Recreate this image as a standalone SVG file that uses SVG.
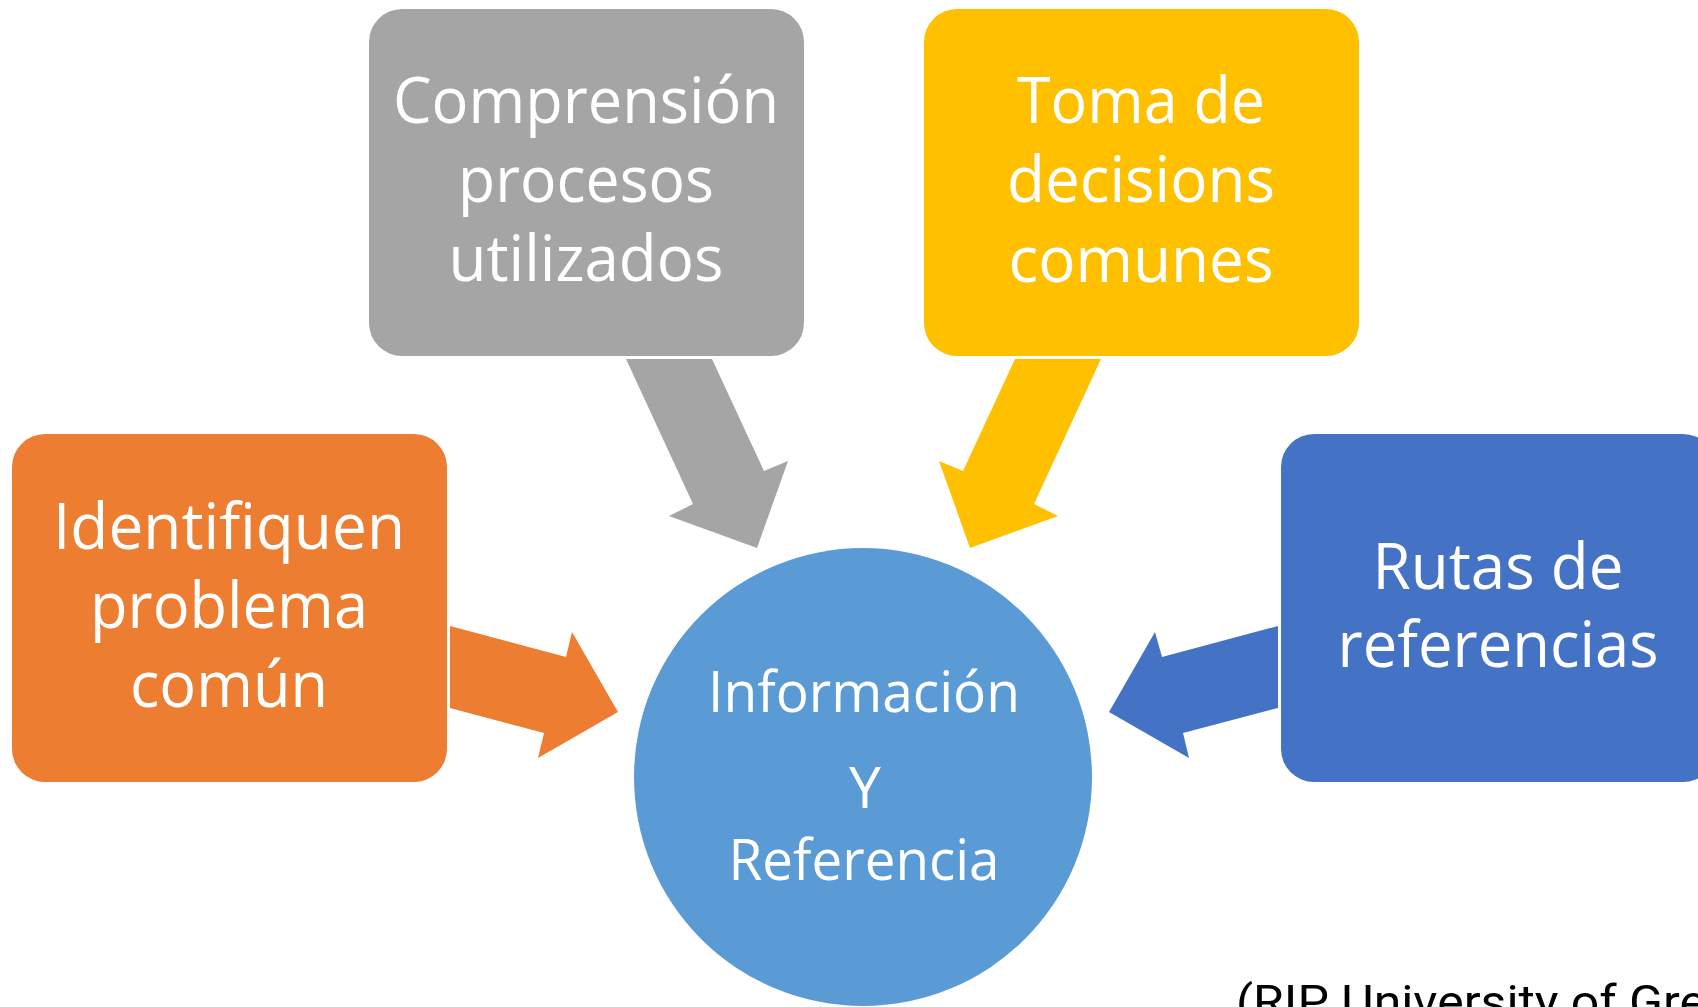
<svg xmlns="http://www.w3.org/2000/svg" width="1698" height="1007" viewBox="0 0 1698 1007">
<style>
.box{stroke:none}
.lbl{font-family:"Open Sans","Noto Sans",sans-serif;fill:#ffffff;text-anchor:middle;font-size:64px}
.clbl{font-family:"Open Sans","Noto Sans",sans-serif;fill:#ffffff;text-anchor:middle;font-size:57px}
.src{font-family:Roboto,"Liberation Sans",sans-serif;fill:#000000;font-size:47px}
</style>
<rect width="1698" height="1007" fill="#ffffff"/>
<g id="connectors">
<polygon points="626,359 712,359 764,471 788,461 757,548 669,516 693,504" fill="#A5A5A5"/>
<polygon points="1101,359 1015,359 963,471 939,461 970,548 1058,516 1034,504" fill="#FFC000"/>
<polygon points="450,626 566,657 572,632 618,712 538,758 544,733 450,708" fill="#ED7D31"/>
<polygon points="1278,626 1162,657 1155,632 1109,712 1189,758 1183,733 1278,708" fill="#4472C4"/>
</g>
<g id="node-comprension">
<rect class="box" x="369" y="9" width="435" height="347" rx="33" fill="#A5A5A5"/>
<text class="lbl" x="586" y="123" textLength="386" lengthAdjust="spacingAndGlyphs">Comprensión</text>
<text class="lbl" x="586" y="202" textLength="256" lengthAdjust="spacingAndGlyphs">procesos</text>
<text class="lbl" x="586" y="281" textLength="275" lengthAdjust="spacingAndGlyphs">utilizados</text>
</g>
<g id="node-toma">
<rect class="box" x="924" y="9" width="435" height="347" rx="33" fill="#FFC000"/>
<text class="lbl" x="1141" y="123" textLength="248" lengthAdjust="spacingAndGlyphs">Toma de</text>
<text class="lbl" x="1141" y="202" textLength="268" lengthAdjust="spacingAndGlyphs">decisions</text>
<text class="lbl" x="1141" y="282" textLength="265" lengthAdjust="spacingAndGlyphs">comunes</text>
</g>
<g id="node-identifiquen">
<rect class="box" x="12" y="434" width="435" height="348" rx="33" fill="#ED7D31"/>
<text class="lbl" x="229" y="549" textLength="352" lengthAdjust="spacingAndGlyphs">Identifiquen</text>
<text class="lbl" x="229" y="628" textLength="278" lengthAdjust="spacingAndGlyphs">problema</text>
<text class="lbl" x="229" y="707" textLength="198" lengthAdjust="spacingAndGlyphs">común</text>
</g>
<g id="node-rutas">
<rect class="box" x="1281" y="434" width="435" height="348" rx="33" fill="#4472C4"/>
<text class="lbl" x="1498" y="589" textLength="251" lengthAdjust="spacingAndGlyphs">Rutas de</text>
<text class="lbl" x="1498" y="667" textLength="321" lengthAdjust="spacingAndGlyphs">referencias</text>
</g>
<g id="node-informacion">
<circle cx="863" cy="777" r="229" fill="#5B9BD5"/>
<text class="clbl" x="864" y="712" textLength="312" lengthAdjust="spacingAndGlyphs">Información</text>
<text class="clbl" x="865" y="808">Y</text>
<text class="clbl" x="864" y="880" textLength="271" lengthAdjust="spacingAndGlyphs">Referencia</text>
</g>
<text class="src" x="1236" y="1018" textLength="470" lengthAdjust="spacingAndGlyphs">(RIP University of Gre</text>
</svg>
